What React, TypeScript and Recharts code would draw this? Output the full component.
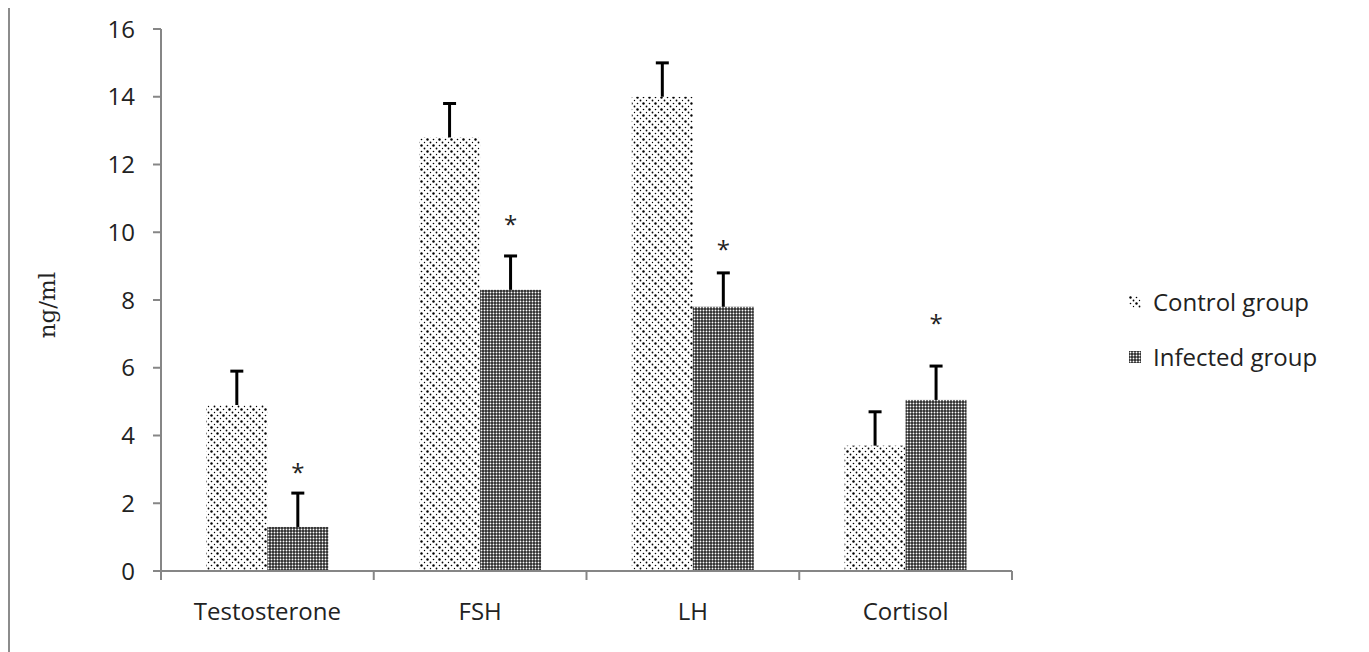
import React from "react";
import { BarChart, Bar, XAxis, YAxis, Legend } from "recharts";

const categories = ["Testosterone", "FSH", "LH", "Cortisol"];
const controlValues = [4.9, 12.8, 14.0, 3.7];
const controlErrors = [1.0, 1.0, 1.0, 1.0];
const infectedValues = [1.3, 8.3, 7.8, 5.05];
const infectedErrors = [1.0, 1.0, 1.0, 1.0];
// level (in ng/ml) at which the significance star sits
const starLevels = [3.1, 10.45, 9.7, 7.5];
const yTicks = [0, 2, 4, 6, 8, 10, 12, 14, 16];

const data = categories.map((name, i) => ({
  name,
  control: controlValues[i],
  controlErr: controlErrors[i],
  infected: infectedValues[i],
  infectedErr: infectedErrors[i],
  star: starLevels[i],
}));

const AXIS = "#868686";
const TEXT = "#222222";
const FONT = "'Open Sans', sans-serif";

function makeShape(errKey: string, patternId: string, withStar: boolean) {
  return (props: any) => {
    const { x, y, width, height, value, payload } = props;
    const v = Array.isArray(value) ? value[1] - value[0] : value;
    const ppu = v ? height / v : 0;
    const cx = x + width / 2;
    const errPx = payload[errKey] * ppu;
    const base = y + height;
    return (
      <g>
        <rect x={x} y={y} width={width} height={height} fill={`url(#${patternId})`} />
        <line x1={cx} y1={y} x2={cx} y2={y - errPx} stroke="#000" strokeWidth={3} />
        <line x1={cx - 6.5} y1={y - errPx} x2={cx + 6.5} y2={y - errPx} stroke="#000" strokeWidth={3} />
        {withStar && (
          <text
            x={cx}
            y={base - payload.star * ppu}
            textAnchor="middle"
            dominantBaseline="central"
            fontFamily={FONT}
            fontSize={24}
            fill={TEXT}
            dy={6}
          >
            *
          </text>
        )}
      </g>
    );
  };
}

const XTick = (props: any) => {
  const { x, y, payload, index, width, visibleTicksCount } = props;
  const half = width / visibleTicksCount / 2;
  return (
    <g>
      <line x1={x - half} y1={y} x2={x - half} y2={y + 9} stroke={AXIS} strokeWidth={2} />
      {index === visibleTicksCount - 1 && (
        <line x1={x + half} y1={y} x2={x + half} y2={y + 9} stroke={AXIS} strokeWidth={2} />
      )}
      <text x={x} y={y + 39} textAnchor="middle" dominantBaseline="central" fontFamily={FONT} fontSize={24} fill={TEXT}>
        {payload.value}
      </text>
    </g>
  );
};

const legendItems = [
  { label: "Control group", pattern: "ctrlPat" },
  { label: "Infected group", pattern: "infPat" },
];

const LegendContent = () => (
  <div style={{ fontFamily: FONT, fontSize: 24, color: TEXT, textAlign: "left" }}>
    {legendItems.map((it) => (
      <div key={it.label} style={{ display: "flex", alignItems: "center", height: 55 }}>
        <svg width={12} height={12} style={{ marginRight: 12 }}>
          <rect x={0} y={0} width={12} height={12} fill={`url(#${it.pattern})`} />
        </svg>
        <span>{it.label}</span>
      </div>
    ))}
  </div>
);

export default function App() {
  return (
    <div style={{ position: "relative", width: 1353, height: 644 }}>
      <div style={{ position: "absolute", left: -8, top: -8 }}>
        <BarChart
          width={1369}
          height={652}
          data={data}
          margin={{ top: 29, right: 357, bottom: 31, left: 0 }}
          barCategoryGap="21.3%"
          barGap={0}
        >
          <defs>
            <pattern id="ctrlPat" width={12} height={12} patternUnits="userSpaceOnUse">
              <rect width={12} height={12} fill="#fff" />
              <circle cx={1.5} cy={1.5} r={1.2} fill="#000" />
              <circle cx={7.5} cy={1.5} r={0.8} fill="#000" />
              <circle cx={4.5} cy={4.5} r={0.9} fill="#000" />
              <circle cx={10.5} cy={4.5} r={0.7} fill="#000" />
              <circle cx={1.5} cy={7.5} r={0.8} fill="#000" />
              <circle cx={7.5} cy={7.5} r={1.2} fill="#000" />
              <circle cx={4.5} cy={10.5} r={0.7} fill="#000" />
              <circle cx={10.5} cy={10.5} r={0.9} fill="#000" />
            </pattern>
            <pattern id="infPat" width={3} height={3} patternUnits="userSpaceOnUse">
              <rect width={3} height={3} fill="#2a2a2a" />
              <circle cx={1.5} cy={1.5} r={0.95} fill="#fff" />
            </pattern>
          </defs>
          <XAxis
            dataKey="name"
            axisLine={{ stroke: AXIS, strokeWidth: 2 }}
            tickLine={false}
            tickSize={0}
            tickMargin={0}
            height={50}
            interval={0}
            tick={<XTick />}
          />
          <YAxis
            domain={[0, 16]}
            ticks={yTicks}
            interval={0}
            width={161}
            axisLine={{ stroke: AXIS, strokeWidth: 2 }}
            tickLine={{ stroke: AXIS, strokeWidth: 2 }}
            tickSize={8}
            tickMargin={18}
            tick={{ fill: TEXT, fontSize: 24, fontFamily: FONT }}
            label={{
              content: (p: any) => {
                const vb = p.viewBox;
                const cx = 47;
                const cy = vb.y + vb.height / 2 + 5;
                return (
                  <text
                    x={cx}
                    y={cy}
                    transform={`rotate(-90 ${cx} ${cy})`}
                    textAnchor="middle"
                    dominantBaseline="central"
                    fontFamily="'DejaVu Serif', serif"
                    fontSize={23}
                    fill={TEXT}
                  >
                    ng/ml
                  </text>
                );
              },
            }}
          />
          <Legend
            layout="horizontal"
            verticalAlign="middle"
            align="center"
            content={<LegendContent />}
            wrapperStyle={{ left: 1129, top: 274, width: 235 }}
          />
          <Bar dataKey="control" isAnimationActive={false} shape={makeShape("controlErr", "ctrlPat", false)} />
          <Bar dataKey="infected" isAnimationActive={false} shape={makeShape("infectedErr", "infPat", true)} />
        </BarChart>
      </div>
      {/* outer frame of the figure */}
      <svg
        width={1369}
        height={652}
        style={{ position: "absolute", left: -8, top: -8, pointerEvents: "none", zIndex: 5 }}
      >
        <path d="M8.5,660 L8.5,5.5 L1363.5,5.5 L1363.5,660" fill="none" stroke="#8c8c8c" strokeWidth={3} />
      </svg>
    </div>
  );
}
